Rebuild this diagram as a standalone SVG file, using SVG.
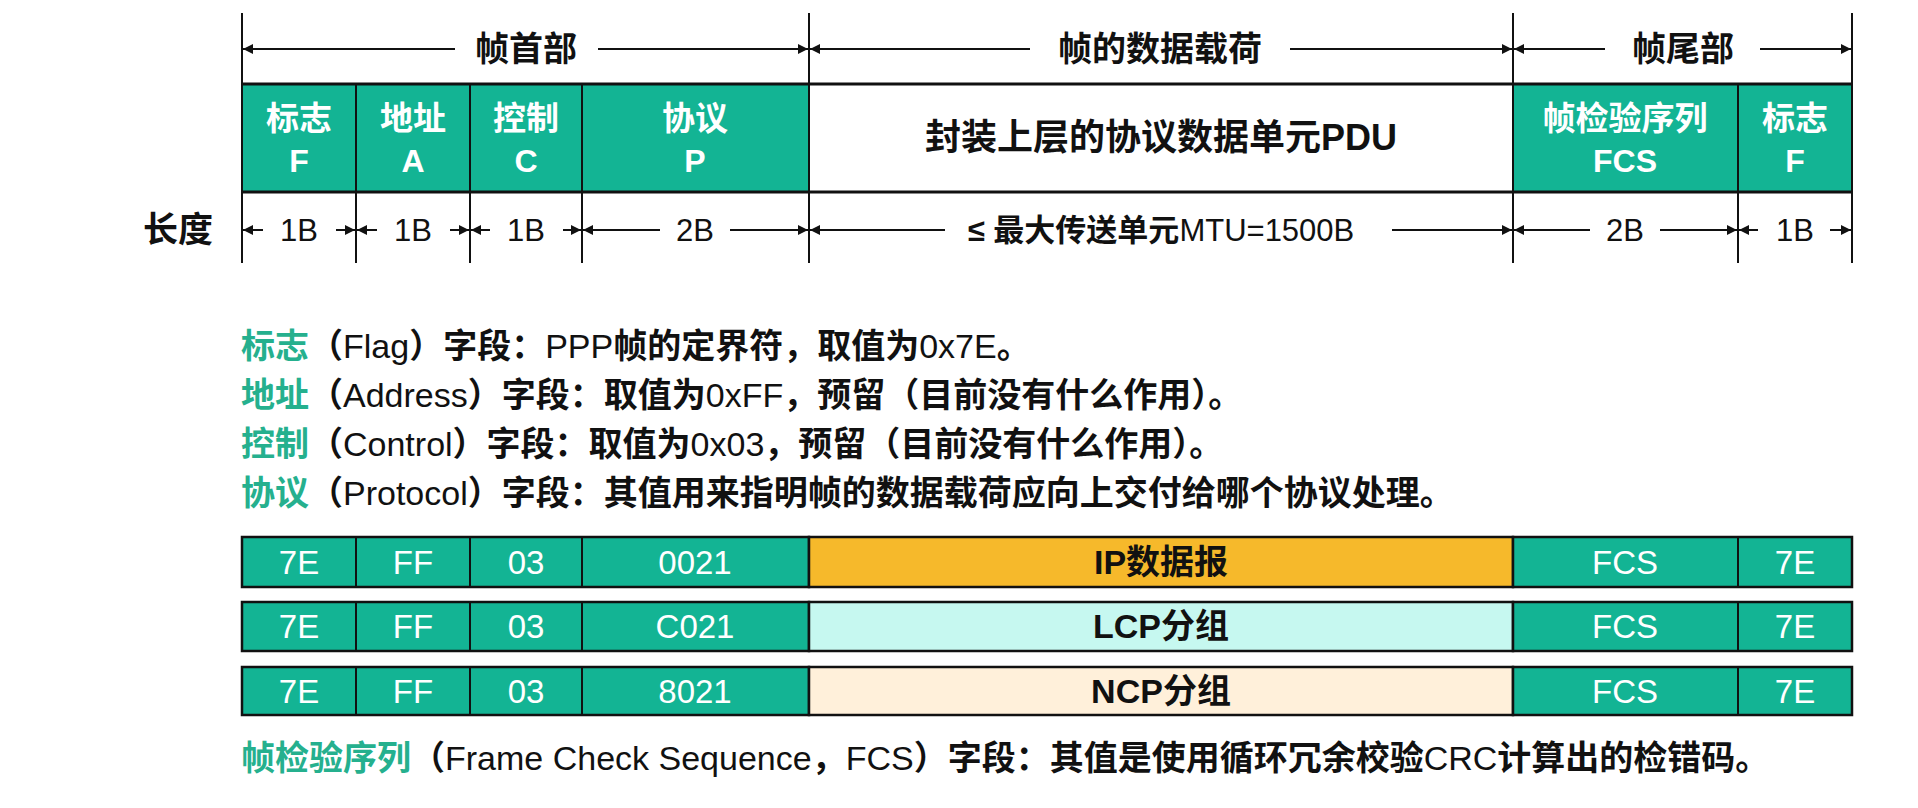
<svg xmlns="http://www.w3.org/2000/svg" width="1918" height="808" viewBox="0 0 1918 808">
<defs>
<marker id="ah" viewBox="0 0 10 10" refX="10" refY="5" markerWidth="12" markerHeight="10" markerUnits="userSpaceOnUse" orient="auto-start-reverse">
<path d="M0,0 L10,5 L0,10 z" fill="#111"/>
</marker>
<style>
.bg{fill:#ffffff}
.g{fill:#13B494}
.vl{stroke:#111;stroke-width:2;fill:none}
.hb{stroke:#111;stroke-width:3;fill:none}
.arl{stroke:#111;stroke-width:2;fill:none;marker-start:url(#ah)}
.arr{stroke:#111;stroke-width:2;fill:none;marker-end:url(#ah)}
.hd{font-family:"Liberation Sans","Noto Sans CJK SC",sans-serif;font-weight:700;font-size:34px;fill:#111;text-anchor:middle}
.cw{font-family:"Liberation Sans","Noto Sans CJK SC",sans-serif;font-weight:700;font-size:33px;fill:#fff;text-anchor:middle}
.cl{font-family:"Liberation Sans","Noto Sans CJK SC",sans-serif;font-weight:900;font-size:32px;fill:#fff;text-anchor:middle}
.pdu{font-family:"Liberation Sans","Noto Sans CJK SC",sans-serif;font-weight:700;font-size:36px;fill:#111;text-anchor:middle}
.ln{font-family:"Liberation Sans","Noto Sans CJK SC",sans-serif;font-size:31px;fill:#111;text-anchor:middle}
.lnc{font-family:"Liberation Sans","Noto Sans CJK SC",sans-serif;font-weight:700;font-size:35px;fill:#111}
.ds{font-family:"Liberation Sans","Noto Sans CJK SC",sans-serif;font-weight:700;font-size:34px;fill:#111}
.lat{font-weight:400}
.gt{fill:#25B08E}
.rw{font-family:"Liberation Sans","Noto Sans CJK SC",sans-serif;font-size:33px;fill:#fff;text-anchor:middle}
.rb{font-family:"Liberation Sans","Noto Sans CJK SC",sans-serif;font-weight:700;font-size:34px;fill:#111;text-anchor:middle}
.box{stroke:#111;stroke-width:2.5}
.sep{stroke:#111;stroke-width:2}
</style>
</defs>
<rect class="bg" x="0" y="0" width="1918" height="808"/>

<g id="frame-format">
  <rect class="g" x="242" y="84" width="567" height="108"/>
  <rect x="809" y="84" width="704" height="108" fill="#fff"/>
  <rect class="g" x="1513" y="84" width="339" height="108"/>
  <line class="hb" x1="242" y1="84" x2="1852" y2="84"/>
  <line class="hb" x1="242" y1="192" x2="1852" y2="192"/>
  <line class="vl" x1="242" y1="13" x2="242" y2="263"/>
  <line class="vl" x1="809" y1="13" x2="809" y2="263"/>
  <line class="vl" x1="1513" y1="13" x2="1513" y2="263"/>
  <line class="vl" x1="1852" y1="13" x2="1852" y2="263"/>
  <line class="vl" x1="356" y1="84" x2="356" y2="263"/>
  <line class="vl" x1="470" y1="84" x2="470" y2="263"/>
  <line class="vl" x1="582" y1="84" x2="582" y2="263"/>
  <line class="vl" x1="1738" y1="84" x2="1738" y2="263"/>
</g>

<g id="header-labels">
  <text class="hd" x="526" y="61">帧首部</text>
  <text class="hd" x="1160" y="61">帧的数据载荷</text>
  <text class="hd" x="1683" y="61">帧尾部</text>
</g>

<g id="field-F">
  <text class="cw" x="299" y="130">标志</text>
  <text class="cl" x="299" y="172">F</text>
</g>
<g id="field-A">
  <text class="cw" x="413" y="130">地址</text>
  <text class="cl" x="413" y="172">A</text>
</g>
<g id="field-C">
  <text class="cw" x="526" y="130">控制</text>
  <text class="cl" x="526" y="172">C</text>
</g>
<g id="field-P">
  <text class="cw" x="695" y="130">协议</text>
  <text class="cl" x="695" y="172">P</text>
</g>
<g id="field-payload">
  <text class="pdu" x="1161" y="150">封装上层的协议数据单元PDU</text>
</g>
<g id="field-FCS">
  <text class="cw" x="1625" y="130">帧检验序列</text>
  <text class="cl" x="1625" y="172">FCS</text>
</g>
<g id="field-F2">
  <text class="cw" x="1795" y="130">标志</text>
  <text class="cl" x="1795" y="172">F</text>
</g>

<g id="length-row">
  <text class="lnc" x="143" y="242">长度</text>
  <text class="ln" x="299" y="241">1B</text>
  <text class="ln" x="413" y="241">1B</text>
  <text class="ln" x="526" y="241">1B</text>
  <text class="ln" x="695" y="241">2B</text>
  <text class="ln" x="1161" y="241"><tspan font-weight="700">≤ 最大传送单元</tspan>MTU=1500B</text>
  <text class="ln" x="1625" y="241">2B</text>
  <text class="ln" x="1795" y="241">1B</text>
</g>

<g id="connectors">
  <line class="arl" x1="243" y1="49" x2="455" y2="49"/>
  <line class="arr" x1="598" y1="49" x2="808" y2="49"/>
  <line class="arl" x1="810" y1="49" x2="1030" y2="49"/>
  <line class="arr" x1="1290" y1="49" x2="1512" y2="49"/>
  <line class="arl" x1="1514" y1="49" x2="1605" y2="49"/>
  <line class="arr" x1="1760" y1="49" x2="1851" y2="49"/>
  <line class="arl" x1="243" y1="230" x2="263" y2="230"/>
  <line class="arr" x1="336" y1="230" x2="355" y2="230"/>
  <line class="arl" x1="357" y1="230" x2="377" y2="230"/>
  <line class="arr" x1="450" y1="230" x2="469" y2="230"/>
  <line class="arl" x1="471" y1="230" x2="490" y2="230"/>
  <line class="arr" x1="563" y1="230" x2="581" y2="230"/>
  <line class="arl" x1="583" y1="230" x2="660" y2="230"/>
  <line class="arr" x1="730" y1="230" x2="808" y2="230"/>
  <line class="arl" x1="810" y1="230" x2="945" y2="230"/>
  <line class="arr" x1="1392" y1="230" x2="1512" y2="230"/>
  <line class="arl" x1="1514" y1="230" x2="1590" y2="230"/>
  <line class="arr" x1="1660" y1="230" x2="1737" y2="230"/>
  <line class="arl" x1="1739" y1="230" x2="1758" y2="230"/>
  <line class="arr" x1="1830" y1="230" x2="1851" y2="230"/>
</g>

<g id="descriptions">
  <text class="ds" x="241" y="358"><tspan class="gt">标志</tspan>（<tspan class="lat">Flag</tspan>）字段：<tspan class="lat">PPP</tspan>帧的定界符，取值为<tspan class="lat">0x7E</tspan>。</text>
  <text class="ds" x="241" y="407"><tspan class="gt">地址</tspan>（<tspan class="lat">Address</tspan>）字段：取值为<tspan class="lat">0xFF</tspan>，预留（目前没有什么作用）。</text>
  <text class="ds" x="241" y="456"><tspan class="gt">控制</tspan>（<tspan class="lat">Control</tspan>）字段：取值为<tspan class="lat">0x03</tspan>，预留（目前没有什么作用）。</text>
  <text class="ds" x="241" y="505"><tspan class="gt">协议</tspan>（<tspan class="lat">Protocol</tspan>）字段：其值用来指明帧的数据载荷应向上交付给哪个协议处理。</text>
</g>

<g id="row-ip">
  <rect class="g box" x="242" y="537" width="567" height="50"/>
  <rect class="box" x="809" y="537" width="704" height="50" fill="#F6B92B"/>
  <rect class="g box" x="1513" y="537" width="339" height="50"/>
  <line class="sep" x1="356" y1="537" x2="356" y2="587"/>
  <line class="sep" x1="470" y1="537" x2="470" y2="587"/>
  <line class="sep" x1="582" y1="537" x2="582" y2="587"/>
  <line class="sep" x1="1738" y1="537" x2="1738" y2="587"/>
  <text class="rw" x="299" y="574">7E</text>
  <text class="rw" x="413" y="574">FF</text>
  <text class="rw" x="526" y="574">03</text>
  <text class="rw" x="695" y="574">0021</text>
  <text class="rb" x="1161" y="574">IP数据报</text>
  <text class="rw" x="1625" y="574">FCS</text>
  <text class="rw" x="1795" y="574">7E</text>
</g>

<g id="row-lcp">
  <rect class="g box" x="242" y="602" width="567" height="49"/>
  <rect class="box" x="809" y="602" width="704" height="49" fill="#C6F8F0"/>
  <rect class="g box" x="1513" y="602" width="339" height="49"/>
  <line class="sep" x1="356" y1="602" x2="356" y2="651"/>
  <line class="sep" x1="470" y1="602" x2="470" y2="651"/>
  <line class="sep" x1="582" y1="602" x2="582" y2="651"/>
  <line class="sep" x1="1738" y1="602" x2="1738" y2="651"/>
  <text class="rw" x="299" y="638">7E</text>
  <text class="rw" x="413" y="638">FF</text>
  <text class="rw" x="526" y="638">03</text>
  <text class="rw" x="695" y="638">C021</text>
  <text class="rb" x="1161" y="638">LCP分组</text>
  <text class="rw" x="1625" y="638">FCS</text>
  <text class="rw" x="1795" y="638">7E</text>
</g>

<g id="row-ncp">
  <rect class="g box" x="242" y="667" width="567" height="48"/>
  <rect class="box" x="809" y="667" width="704" height="48" fill="#FFF0DA"/>
  <rect class="g box" x="1513" y="667" width="339" height="48"/>
  <line class="sep" x1="356" y1="667" x2="356" y2="715"/>
  <line class="sep" x1="470" y1="667" x2="470" y2="715"/>
  <line class="sep" x1="582" y1="667" x2="582" y2="715"/>
  <line class="sep" x1="1738" y1="667" x2="1738" y2="715"/>
  <text class="rw" x="299" y="703">7E</text>
  <text class="rw" x="413" y="703">FF</text>
  <text class="rw" x="526" y="703">03</text>
  <text class="rw" x="695" y="703">8021</text>
  <text class="rb" x="1161" y="703">NCP分组</text>
  <text class="rw" x="1625" y="703">FCS</text>
  <text class="rw" x="1795" y="703">7E</text>
</g>

<g id="fcs-description">
  <text class="ds" x="241" y="770"><tspan class="gt">帧检验序列</tspan>（<tspan class="lat">Frame Check Sequence</tspan>，<tspan class="lat">FCS</tspan>）字段：其值是使用循环冗余校验<tspan class="lat">CRC</tspan>计算出的检错码。</text>
</g>
</svg>
